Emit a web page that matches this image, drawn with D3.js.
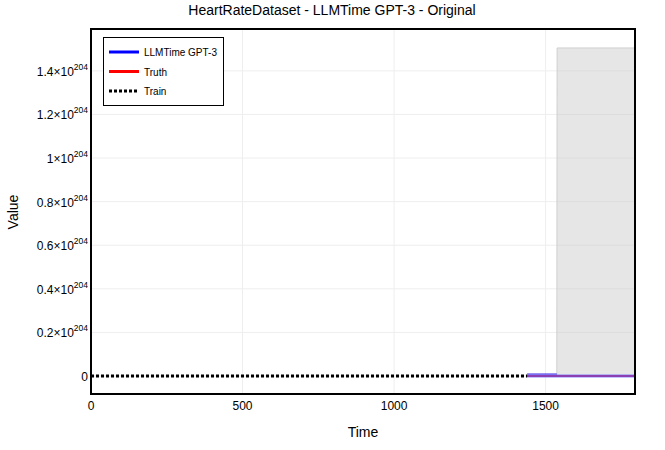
<!DOCTYPE html>
<html><head><meta charset="utf-8">
<script src="https://cdn.jsdelivr.net/npm/d3@7"></script>
<style>body{margin:0;background:#fff}svg{font-family:"Liberation Sans",Arial,sans-serif}</style>
</head><body><svg id="c" width="665" height="450"></svg>
<script>
const title = "HeartRateDataset - LLMTime GPT-3 - Original";
const trainTime = [0, 360, 720, 1080, 1439];
const trainValue = [78, 82, 75, 88, 80];
const truthTime = [1439, 1620, 1799];
const truthValue = [80, 84, 79];
const predTime = [1439, 1537, 1620, 1799];
const predValue = [80, 80, 80, 80];
const upperTime = [1439, 1537];
const upperValue = [9e201, 9e201];
const bandTime = [1537, 1538, 1799];
const bandUpper = [9e201, 1.505e204, 1.505e204];
const bandLower = [0, 0, 0];
const xTicks = [0, 500, 1000, 1500];
const yTicks = [0, 0.2e204, 0.4e204, 0.6e204, 0.8e204, 1e204, 1.2e204, 1.4e204];
const yTickMant = ["0", "0.2", "0.4", "0.6", "0.8", "1", "1.2", "1.4"];
const legendNames = ["LLMTime GPT-3", "Truth", "Train"];

const svg = d3.select("#c");
const L = 91, R = 635, T = 29, B = 394;
const x = d3.scaleLinear().domain([0, 1795]).range([L, R]);
const y = d3.scaleLinear().domain([-0.0826e204, 1.592e204]).range([B, T]);

svg.append("text").attr("x", 332).attr("y", 15).attr("text-anchor", "middle")
  .attr("font-size", 14).attr("fill", "#000").text(title);

svg.append("clipPath").attr("id", "pc").append("rect")
  .attr("x", L).attr("y", T).attr("width", R - L).attr("height", B - T);

const g = svg.append("g");
g.selectAll(".gx").data(xTicks).join("line").attr("x1", d => x(d)).attr("x2", d => x(d))
  .attr("y1", T).attr("y2", B).attr("stroke", "#eeeeee").attr("stroke-width", 1);
g.selectAll(".gy").data(yTicks).join("line").attr("y1", d => y(d)).attr("y2", d => y(d))
  .attr("x1", L).attr("x2", R).attr("stroke", "#eeeeee").attr("stroke-width", 1);

const pg = svg.append("g").attr("clip-path", "url(#pc)");
const bandData = bandTime.map((t, i) => ({t, u: bandUpper[i], l: bandLower[i]}));
pg.append("path").datum(bandData)
  .attr("d", d3.area().x(d => x(d.t)).y0(d => y(d.l)).y1(d => y(d.u)))
  .attr("fill", "rgba(200,200,200,0.45)").attr("stroke", "#d0d0d0").attr("stroke-width", 1);

const line = d3.line().x(d => x(d[0])).y(d => y(d[1]));
pg.append("path").datum(upperTime.map((t, i) => [t, upperValue[i]]))
  .attr("d", line).attr("fill", "none").attr("stroke", "rgba(40,20,230,1)").attr("stroke-width", 1);
pg.append("path").datum(truthTime.map((t, i) => [t, truthValue[i]]))
  .attr("d", line).attr("fill", "none").attr("stroke", "red").attr("stroke-width", 2);
pg.append("path").datum(predTime.map((t, i) => [t, predValue[i]]))
  .attr("d", line).attr("fill", "none").attr("stroke", "rgba(90,90,255,0.7)").attr("stroke-width", 3);
pg.append("path").datum(trainTime.map((t, i) => [t, trainValue[i]]))
  .attr("d", line).attr("fill", "none").attr("stroke", "#000").attr("stroke-width", 3)
  .attr("stroke-dasharray", "3,2");

svg.selectAll(".xt").data(xTicks).join("text").attr("x", d => x(d)).attr("y", 410)
  .attr("text-anchor", "middle").attr("font-size", 12).text(d => d);
const yt = svg.selectAll(".yt").data(yTicks).join("text").attr("x", 88).attr("y", (d) => y(d) + 5)
  .attr("text-anchor", "end").attr("font-size", 12);
yt.each(function(d, i) {
  const s = d3.select(this);
  if (d === 0) { s.text("0"); return; }
  s.append("tspan").text(yTickMant[i] + "×10");
  s.append("tspan").attr("dy", -6).attr("font-size", 8.5).text("204");
});

svg.append("text").attr("x", 363).attr("y", 437).attr("text-anchor", "middle")
  .attr("font-size", 14).text("Time");
svg.append("text").attr("transform", "translate(18,212) rotate(-90)").attr("text-anchor", "middle")
  .attr("font-size", 14).text("Value");

svg.append("rect").attr("x", L).attr("y", T).attr("width", R - L).attr("height", B - T)
  .attr("fill", "none").attr("stroke", "#000").attr("stroke-width", 2);

const lg = svg.append("g");
lg.append("rect").attr("x", 103.5).attr("y", 37.5).attr("width", 120).attr("height", 68)
  .attr("fill", "#fff").attr("stroke", "#000").attr("stroke-width", 1);
const lstyles = [{c: "blue", d: null}, {c: "red", d: null}, {c: "#000", d: "3,2"}];
legendNames.forEach((n, i) => {
  const yy = 52 + i * 19.5;
  lg.append("line").attr("x1", 109).attr("x2", 139).attr("y1", yy).attr("y2", yy)
    .attr("stroke", lstyles[i].c).attr("stroke-width", 3).attr("stroke-dasharray", lstyles[i].d);
  lg.append("text").attr("x", 144).attr("y", yy + 4).attr("font-size", 10).text(n);
});
</script></body></html>
